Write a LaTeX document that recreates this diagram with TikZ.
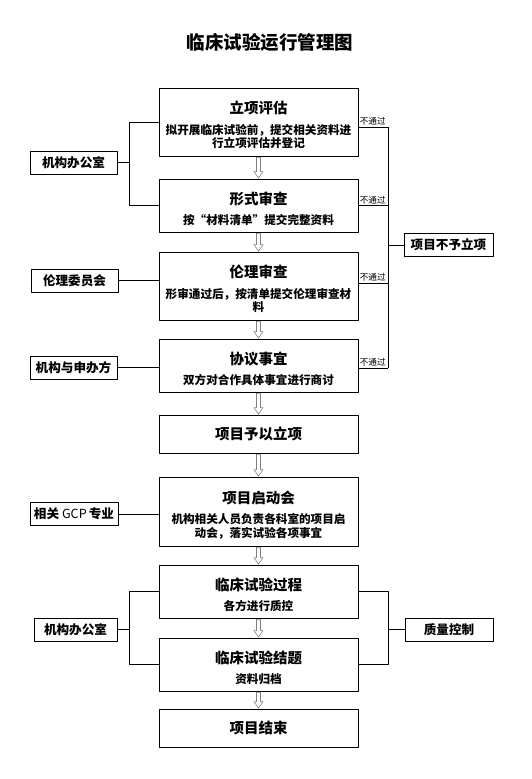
\documentclass[tikz,border=0pt]{standalone}
\usepackage{fontspec}
\setmainfont{Noto Sans CJK SC}
\usetikzlibrary{calc}
\newcommand\headfont{\fontsize{18.5}{20}\selectfont}
\newcommand\ttlfont{\fontsize{14.5}{16}\selectfont}
\newcommand\subfont{\fontsize{11.6}{13.5}\selectfont}
\newcommand\sidefont{\fontsize{12.6}{14}\selectfont}
\newcommand\tagfont{\fontsize{8.6}{9}\selectfont}
\newcommand\stagetitle[1]{{\ttlfont\rule{0pt}{19pt}#1}}
\begin{document}
\begin{tikzpicture}[x=1pt, y=-1pt, line join=round]
	\tikzset{stage/.style={draw, line width=0.8pt, minimum width=199pt, align=center, inner sep=0pt, font=\subfont\bfseries},
		side/.style={draw, line width=0.8pt, minimum height=23pt, inner sep=0pt, font=\sidefont\bfseries},
		link/.style={line width=0.8pt},
		flow/.style={draw=gray, fill=white, line width=0.6pt},
		nopass/.style={font=\tagfont, inner sep=1pt}}
	\useasboundingbox (0,0) rectangle (532,779);
	\node[font=\headfont\bfseries] (head) at (270,42) {临床试验运行管理图};
	% main flow
	\node[stage, minimum height=68pt] (b1) at (258.5,122) {\stagetitle{立项评估}\\[7pt]拟开展临床试验前，提交相关资料进\\行立项评估并登记};
	\node[stage, minimum height=53pt] (b2) at (258.5,205.5) {\stagetitle{形式审查}\\[7pt]按“材料清单”提交完整资料};
	\node[stage, minimum height=68pt] (b3) at (258.5,286) {\stagetitle{伦理审查}\\[7pt]形审通过后，按清单提交伦理审查材\\料};
	\node[stage, minimum height=53pt] (b4) at (258.5,365.5) {\stagetitle{协议事宜}\\[7pt]双方对合作具体事宜进行商讨};
	\node[stage, minimum height=38pt, font=\ttlfont\bfseries] (b5) at (258.5,434) {项目予以立项};
	\node[stage, minimum height=69pt] (b6) at (258.5,511.5) {\stagetitle{项目启动会}\\[7pt]机构相关人员负责各科室的项目启\\动会，落实试验各项事宜};
	\node[stage, minimum height=53pt] (b7) at (258.5,591.5) {\stagetitle{临床试验过程}\\[7pt]各方进行质控};
	\node[stage, minimum height=53pt] (b8) at (258.5,664.5) {\stagetitle{临床试验结题}\\[7pt]资料归档};
	\node[stage, minimum height=38pt, font=\ttlfont\bfseries] (b9) at (258.5,728) {项目结束};
	% side boxes
	\node[side, minimum width=87pt] (o1) at (73.5,162.5) {机构办公室};
	\node[side, minimum width=87pt] (e) at (74.5,280.5) {伦理委员会};
	\node[side, minimum width=87pt] (s) at (73.5,367.5) {机构与申办方};
	\node[side, minimum width=88pt] (g) at (74,514) {相关 {\mdseries GCP}\,专业};
	\node[side, minimum width=83pt] (o2) at (75.5,629.5) {机构办公室};
	\node[side, minimum width=89pt] (n) at (448.5,245) {项目不予立项};
	\node[side, minimum width=88pt] (q) at (449,629.5) {质量控制};
	% left links
	\draw[link] (b1.west) -- ++(-29,0) coordinate (jl1) |- (b2.west);
	\draw[link] (o1.east) -- (o1.east -| jl1);
	\draw[link] (e.east) -- (e.east -| b3.west);
	\draw[link] (s.east) -- (s.east -| b4.west);
	\draw[link] (g.east) -- (g.east -| b6.west);
	\draw[link] (b7.west) -- ++(-29,0) coordinate (jl2) |- (b8.west);
	\draw[link] (o2.east) -- (o2.east -| jl2);
	% right links
	\draw[link] (b7.east) -- ++(29.5,0) coordinate (jr2) |- (b8.east);
	\draw[link] (q.west) -- (q.west -| jr2);
	\path ([yshift=-5pt]b1.east) coordinate (f1)
	(b2.east) coordinate (f2)
	([yshift=3pt]b3.east) coordinate (f3)
	([yshift=-2.5pt]b4.east) coordinate (f4)
	(388,0) coordinate (rx);
	\foreach \f in {f1,f2,f3,f4}
	\draw[link] (\f) -- (\f -| rx) node[nopass, pos=0, above right]{不通过};
	\draw[link] (f1 -| rx) -- (f4 -| rx);
	\draw[link] (n.west) -- (n.west -| rx);
	% hollow arrows
	\foreach \u/\l in {b1/b2,b2/b3,b3/b4,b4/b5,b5/b6,b6/b7,b7/b8,b8/b9}
	\draw[flow] let \p1=(\u.south), \p2=(\l.north) in
	({\x1-2pt},{\y1-1pt}) -- ({\x1-2pt},{\y2+7pt}) -- ({\x1-4.5pt},{\y2+7pt}) -- (\x1,{\y2+0.5pt})
	-- ({\x1+4.5pt},{\y2+7pt}) -- ({\x1+2pt},{\y2+7pt}) -- ({\x1+2pt},{\y1-1pt}) -- cycle;
\end{tikzpicture}
\end{document}
